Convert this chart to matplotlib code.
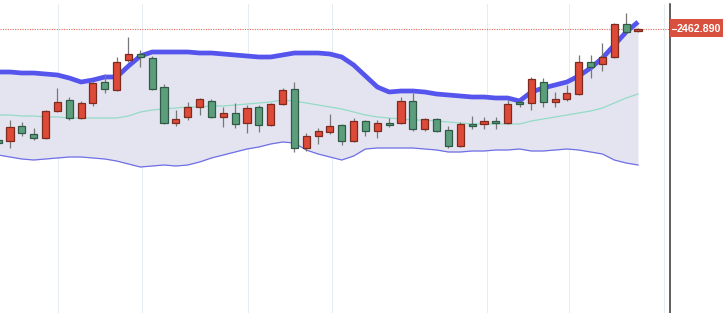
import numpy as np
import matplotlib.pyplot as plt
from matplotlib.patches import Rectangle

# daily candles (oldest first)
opens = [2352, 2351, 2366, 2358, 2354, 2381, 2392, 2374, 2389, 2410,
         2402, 2432, 2438, 2434, 2405, 2369, 2375, 2385, 2391, 2375,
         2379, 2369, 2385, 2367, 2388, 2403, 2344, 2356, 2360, 2367,
         2351, 2371, 2361, 2369, 2369, 2391, 2363, 2373, 2362, 2346,
         2368, 2368, 2371, 2369, 2390, 2389, 2410, 2390, 2393, 2398,
         2430, 2428, 2435, 2468, 2461]
highs = [2354, 2372, 2370, 2364, 2382, 2404, 2395, 2391, 2410, 2418,
         2435, 2455, 2442, 2436, 2408, 2382, 2390, 2394, 2393, 2385,
         2389, 2387, 2387, 2389, 2404, 2410, 2359, 2364, 2378, 2368,
         2374, 2372, 2372, 2374, 2395, 2399, 2374, 2374, 2366, 2370,
         2376, 2375, 2375, 2392, 2391, 2415, 2414, 2400, 2407, 2437,
         2437, 2449, 2469, 2479, 2464]
lows = [2346, 2344, 2356, 2352, 2353, 2380, 2372, 2373, 2386, 2399,
        2401, 2430, 2425, 2402, 2368, 2366, 2372, 2377, 2374, 2365,
        2364, 2359, 2360, 2366, 2387, 2340, 2341, 2348, 2358, 2347,
        2350, 2356, 2354, 2365, 2368, 2361, 2361, 2360, 2344, 2345,
        2363, 2363, 2363, 2368, 2385, 2382, 2385, 2385, 2391, 2397,
        2414, 2421, 2434, 2459, 2460.5]
closes = [2349, 2365, 2359, 2354, 2381, 2390, 2374, 2389, 2409, 2403,
          2430, 2438, 2435, 2403, 2369, 2373, 2385, 2393, 2375, 2379,
          2368, 2384, 2367, 2388, 2402, 2344, 2356, 2361, 2366, 2351,
          2371, 2361, 2369, 2367.5, 2391, 2363, 2373, 2361, 2346, 2368,
          2366.5, 2371, 2369, 2388, 2388.5, 2413, 2390, 2393, 2399, 2430,
          2425, 2435, 2468, 2460, 2462.89]

# bollinger bands
upper = [2420, 2420, 2419, 2419, 2418, 2417, 2414, 2410, 2412, 2415,
         2415, 2426, 2436, 2440, 2440, 2440, 2440, 2439, 2439, 2438,
         2437, 2436, 2435, 2435, 2437, 2439, 2439, 2439, 2438, 2435,
         2427, 2416, 2405, 2400, 2401, 2401, 2400, 2398, 2397, 2396,
         2395, 2395, 2394, 2394, 2391, 2400, 2404, 2407, 2410, 2416,
         2424, 2434, 2447, 2460, 2470]
middle = [2377, 2377, 2376, 2376, 2375, 2375, 2374, 2374, 2374, 2374,
          2374, 2376, 2380, 2382, 2383, 2384, 2385, 2385, 2386, 2386,
          2387, 2388, 2389, 2390, 2392, 2391, 2389, 2387, 2385, 2383,
          2380, 2377, 2375, 2374, 2373, 2372, 2372, 2371, 2370, 2369,
          2368, 2368, 2368, 2368, 2368, 2371, 2373, 2375, 2377, 2379,
          2381, 2384, 2389, 2394, 2398]
lower = [2337, 2335, 2333, 2332, 2333, 2334, 2335, 2335, 2334, 2333,
         2331, 2328, 2325, 2326, 2327, 2326, 2327, 2330, 2334, 2337,
         2340, 2343, 2345, 2348, 2350, 2349, 2342, 2338, 2335, 2332,
         2336, 2343, 2344, 2344, 2344, 2344, 2343, 2342, 2340, 2340,
         2341, 2341, 2342, 2342, 2343, 2341, 2341, 2342, 2343, 2342,
         2340, 2338, 2332, 2329, 2327]

last_price = 2462.89
grid_pos = [5.05, 12.15, 21.1, 28.2, 41.25, 48.2, 56.2]

o, h, l, c = map(np.array, (opens, highs, lows, closes))
x = np.arange(len(o))

fig = plt.figure(figsize=(7.23, 3.13), dpi=100)
ax = fig.add_axes([0, 0, 670 / 723, 309 / 313])

ax.fill_between(x, upper, lower, color='#e4e4f1', zorder=1, lw=0)
ax.plot(x, middle, color='#93dcc4', lw=0.9, zorder=2)
ax.plot(x, lower, color='#6f6fe6', lw=0.9, zorder=2)
ax.plot(x, upper, color='#5555ee', lw=3.4, zorder=2, solid_capstyle='butt')

ax.axhline(last_price, color='#e26a5c', lw=0.8, ls=(0, (1, 1.2)), zorder=1.5)

up = c >= o
face = np.where(up, '#dd4a37', '#5c9e7c')
edge = np.where(up, '#7d2a1f', '#2f5a45')
ax.vlines(x, l, h, color='#777777', lw=0.9, zorder=3)
body_lo = np.minimum(o, c)
body_h = np.maximum(np.abs(c - o), 1.2)
ax.bar(x, body_h, bottom=body_lo, width=0.6, color=face, edgecolor=edge,
       linewidth=0.9, zorder=4)

ax.set_xlim(0.156, 56.7)
ax.set_ylim(2179, 2488)
ax.set_xticks(grid_pos)
ax.set_yticks([])
ax.grid(axis='x', color='#e5edf2', lw=0.8)
ax.set_axisbelow(True)
ax.tick_params(length=0, labelbottom=False)
for s in ['top', 'left', 'bottom']:
    ax.spines[s].set_visible(False)
ax.spines['right'].set_color('#333333')
ax.spines['right'].set_linewidth(1.1)

# last price label on the right
fig.add_artist(Rectangle((670 / 723, 1 - 37 / 313), 60 / 723, 18 / 313,
                         transform=fig.transFigure, color='#d9503f', lw=0))
fig.add_artist(plt.Line2D([672 / 723, 675.5 / 723], [1 - 29 / 313] * 2,
                          transform=fig.transFigure, color='white', lw=0.8))
fig.text(677 / 723, 1 - 28.5 / 313, f'{last_price:.3f}', color='white',
         fontsize=7.7, fontweight='bold', family='Liberation Sans',
         va='center', ha='left')

fig.savefig('out.png', dpi=100)
